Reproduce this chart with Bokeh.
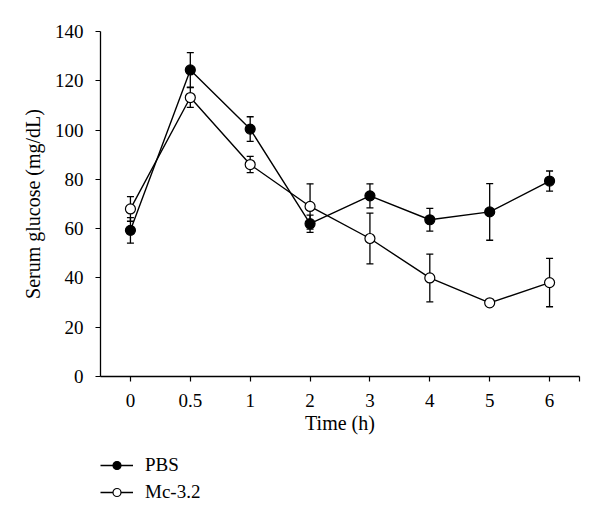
from bokeh.plotting import figure
from bokeh.layouts import column
from bokeh.models import (ColumnDataSource, Range1d, FixedTicker, Whisker, TeeHead,
                          Legend, LegendItem)
from bokeh.embed import file_html
from bokeh.resources import INLINE

# ---- data ----
time_labels = ["0", "0.5", "1", "2", "3", "4", "5", "6"]
pbs_mean = [59.3, 124.4, 100.4, 62.0, 73.3, 63.6, 66.8, 79.3]
pbs_err = [5.2, 7.0, 5.0, 3.5, 4.9, 4.6, 11.5, 4.1]
mc_mean = [68.0, 113.2, 86.0, 69.0, 56.0, 40.0, 29.9, 38.1]
mc_err = [5.0, 4.0, 3.3, 9.2, 10.3, 9.7, 0.8, 9.8]
y_ticks = [0, 20, 40, 60, 80, 100, 120, 140]
series_names = ["PBS", "Mc-3.2"]

x_pos = list(range(len(time_labels)))

FONT = "Liberation Serif"

pbs_src = ColumnDataSource(dict(
    x=x_pos, y=pbs_mean,
    lo=[m - e for m, e in zip(pbs_mean, pbs_err)],
    hi=[m + e for m, e in zip(pbs_mean, pbs_err)]))
mc_src = ColumnDataSource(dict(
    x=x_pos, y=mc_mean,
    lo=[m - e for m, e in zip(mc_mean, mc_err)],
    hi=[m + e for m, e in zip(mc_mean, mc_err)]))

p = figure(width=584, height=454, output_backend="svg", toolbar_location=None,
           x_range=Range1d(-0.5, len(time_labels) - 0.5),
           y_range=Range1d(0, 140),
           min_border_left=100, min_border_right=5,
           min_border_top=31, min_border_bottom=78)

p.outline_line_color = None
p.grid.visible = False

# axes
xa = p.xaxis[0]
xa.ticker = FixedTicker(ticks=x_pos, minor_ticks=[len(time_labels) - 0.5])
xa.major_label_overrides = {i: lab for i, lab in zip(x_pos, time_labels)}
ya = p.yaxis[0]
ya.ticker = FixedTicker(ticks=y_ticks)

for ax in (xa, ya):
    ax.axis_line_color = "black"
    ax.axis_line_width = 1.3
    ax.major_tick_line_color = "black"
    ax.major_tick_line_width = 1.2
    ax.major_tick_in = 0
    ax.major_tick_out = 5
    ax.minor_tick_line_color = "black"
    ax.minor_tick_line_width = 1.2
    ax.minor_tick_in = 0
    ax.minor_tick_out = 5
    ax.major_label_text_font = FONT
    ax.major_label_text_font_size = "19px"
    ax.major_label_text_color = "black"
    ax.axis_label_text_font = FONT
    ax.axis_label_text_font_size = "20px"
    ax.axis_label_text_font_style = "normal"
    ax.axis_label_text_color = "black"

ya.minor_tick_line_color = None
xa.axis_label = "Time (h)"
ya.axis_label = "Serum glucose (mg/dL)"
xa.major_label_standoff = 12
ya.major_label_standoff = 12
xa.axis_label_standoff = 2
ya.axis_label_standoff = 8

# lines
p.line("x", "y", source=pbs_src, line_color="black", line_width=1.4)
p.line("x", "y", source=mc_src, line_color="black", line_width=1.4)

# error bars
for src in (pbs_src, mc_src):
    w = Whisker(base="x", upper="hi", lower="lo", source=src, dimension="height",
                line_color="black", line_width=1.3,
                upper_head=TeeHead(size=7, line_color="black", line_width=1.3),
                lower_head=TeeHead(size=7, line_color="black", line_width=1.3))
    p.add_layout(w)

# markers
p.scatter("x", "y", source=pbs_src, size=10, marker="circle",
          fill_color="black", line_color="black", line_width=1.2)
p.scatter("x", "y", source=mc_src, size=10, marker="circle",
          fill_color="white", line_color="black", line_width=1.2)

# ---- legend strip below the chart (its renderers use the same data,
#      which lies outside this strip's ranges, so only the legend shows) ----
p2 = figure(width=584, height=50, output_backend="svg", toolbar_location=None,
            x_range=Range1d(0, 1), y_range=Range1d(-1, 0),
            min_border_left=100, min_border_right=5,
            min_border_top=0, min_border_bottom=0)
p2.axis.visible = False
p2.grid.visible = False
p2.outline_line_color = None

items = []
for name, fill, src in zip(series_names, ["black", "white"], [pbs_src, mc_src]):
    lr = p2.line("x", "y", source=src, line_color="black", line_width=1.4)
    sr = p2.scatter("x", "y", source=src, size=10, marker="circle",
                    fill_color=fill, line_color="black", line_width=1.2)
    items.append(LegendItem(label=name, renderers=[lr, sr]))

legend = Legend(items=items, location="top_left", orientation="vertical",
                padding=0, margin=0, spacing=5,
                glyph_width=33, glyph_height=20, label_height=20,
                label_standoff=12,
                label_text_font=FONT, label_text_font_size="19px",
                label_text_color="black",
                border_line_color=None, background_fill_alpha=0)
p2.add_layout(legend, "center")

layout = column(p, p2, spacing=0)
open("out.html", "w").write(file_html(layout, INLINE))
